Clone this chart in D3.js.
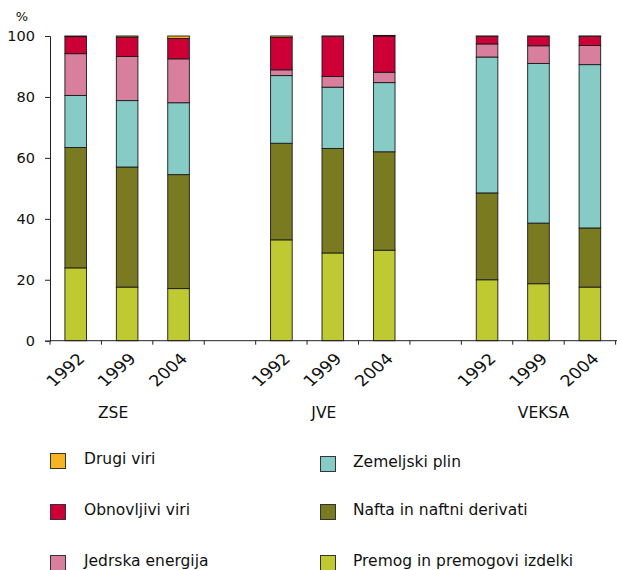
<!DOCTYPE html>
<html>
<head>
<meta charset="utf-8">
<script src="https://cdn.jsdelivr.net/npm/d3@7"></script>
<style>
  html, body { margin: 0; padding: 0; background: #fff; }
  svg { display: block; }
  text { font-family: "DejaVu Sans", Verdana, sans-serif; fill: #111; }
</style>
</head>
<body>
<svg id="chart" width="617" height="570"></svg>
<script>
// Regions and years shown on the category axis
const groups = ["ZSE", "JVE", "VEKSA"];
const years = ["1992", "1999", "2004"];

// Share of primary energy sources (%), one value per bar: ZSE 1992..2004, JVE 1992..2004, VEKSA 1992..2004
const premog      = [23.9, 17.6, 17.1, 33.1, 28.8, 29.7, 20.0, 18.7, 17.6];
const nafta       = [39.5, 39.4, 37.4, 31.7, 34.3, 32.3, 28.5, 19.9, 19.4];
const plin        = [17.1, 21.8, 23.6, 22.2, 20.1, 22.7, 44.6, 52.4, 53.6];
const jedrska     = [13.7, 14.5, 14.4,  1.9,  3.5,  3.4,  4.3,  5.8,  6.3];
const obnovljivi  = [ 5.6,  6.3,  6.7, 10.6, 13.2, 11.9,  2.5,  3.1,  3.0];
const drugi       = [ 0.2,  0.4,  0.8,  0.5,  0.1,  0.2,  0.1,  0.1,  0.1];

const yTicks = [0, 20, 40, 60, 80, 100];

// Series in stacking order (bottom to top)
const series = [
  { key: "premog",     name: "Premog in premogovi izdelki", values: premog,     color: "#bfc932" },
  { key: "nafta",      name: "Nafta in naftni derivati",    values: nafta,      color: "#7a7b20" },
  { key: "plin",       name: "Zemeljski plin",              values: plin,       color: "#86cbc6" },
  { key: "jedrska",    name: "Jedrska energija",            values: jedrska,    color: "#d87f9e" },
  { key: "obnovljivi", name: "Obnovljivi viri",             values: obnovljivi, color: "#cc0036" },
  { key: "drugi",      name: "Drugi viri",                  values: drugi,      color: "#f6b423" }
];

// Category slots, with an empty slot between region groups
const slots = [];
const bars = [];
groups.forEach((g, gi) => {
  if (gi > 0) slots.push("gap" + gi);
  years.forEach(y => {
    const key = g + " " + y;
    slots.push(key);
    const row = { slot: key, year: y, group: g };
    series.forEach(s => { row[s.key] = s.values[bars.length]; });
    bars.push(row);
  });
});

const svg = d3.select("#chart");
const margin = { left: 50, top: 36, right: 1.4, bottom: 229.3 };
const W = 617, H = 570;

const x = d3.scaleBand()
  .domain(slots)
  .range([margin.left, W - margin.right])
  .paddingInner(0.58)
  .paddingOuter(0.29);

const y = d3.scaleLinear().domain([0, 100]).range([H - margin.bottom, margin.top]);

const stack = d3.stack().keys(series.map(s => s.key));
const stacked = stack(bars);

// Bars
const layers = svg.append("g").selectAll("g")
  .data(stacked)
  .join("g")
  .attr("fill", (d, i) => series[i].color);

layers.selectAll("rect")
  .data(d => d)
  .join("rect")
  .attr("x", d => x(d.data.slot))
  .attr("width", x.bandwidth())
  .attr("y", d => y(d[1]))
  .attr("height", d => Math.max(0, y(d[0]) - y(d[1])))
  .attr("stroke", "#1a1a1a")
  .attr("stroke-width", 0.9);

// Y axis
const yAxis = svg.append("g")
  .attr("transform", `translate(${margin.left},0)`)
  .call(d3.axisLeft(y).tickValues(yTicks).tickSize(5).tickPadding(10));
yAxis.select(".domain").attr("stroke", "#222");
yAxis.selectAll(".tick line").attr("stroke", "#222");
yAxis.selectAll(".tick text")
  .attr("font-size", 14.5)
  .attr("font-family", "DejaVu Sans, Verdana, sans-serif")
  .attr("fill", "#111");

svg.append("text")
  .attr("x", 22).attr("y", 21)
  .attr("text-anchor", "middle")
  .attr("font-size", 13)
  .text("%");

// X axis: ticks at slot boundaries
const x0 = H - margin.bottom;
const xAxis = svg.append("g");
xAxis.append("line")
  .attr("x1", margin.left).attr("x2", W)
  .attr("y1", x0).attr("y2", x0)
  .attr("stroke", "#222");
const step = x.step();
const boundaries = d3.range(slots.length + 1).map(i => x.range()[0] + i * step);
xAxis.selectAll("line.tick")
  .data(boundaries)
  .join("line")
  .attr("class", "tick")
  .attr("x1", d => d).attr("x2", d => d)
  .attr("y1", x0).attr("y2", x0 + 4)
  .attr("stroke", "#222");

// Year labels, rotated and slightly widened
xAxis.selectAll("text.year")
  .data(bars)
  .join("text")
  .attr("class", "year")
  .attr("text-anchor", "end")
  .attr("font-size", 15.5)
  .attr("transform", d => `translate(${x(d.slot) + x.bandwidth() / 2 + 10},${x0 + 19}) scale(1.15,1) rotate(-45)`)
  .text(d => d.year);

// Region labels under each group
const groupShift = [-14, -9, 5];
svg.selectAll("text.group")
  .data(groups)
  .join("text")
  .attr("class", "group")
  .attr("text-anchor", "middle")
  .attr("font-size", 15.5)
  .attr("x", (g, i) => x(g + " " + years[1]) + x.bandwidth() / 2 + groupShift[i])
  .attr("y", 418)
  .text(g => g);

// Legend, two columns
const legendCols = [
  ["drugi", "obnovljivi", "jedrska"],
  ["plin", "nafta", "premog"]
];
const colX = [50, 320];
const rowY = [453, 504, 555];
legendCols.forEach((col, ci) => {
  col.forEach((key, ri) => {
    const s = series.find(d => d.key === key);
    const gy = rowY[ri] + (ci === 1 && ri === 0 ? 3 : 0);
    const g = svg.append("g").attr("transform", `translate(${colX[ci]},${gy})`);
    g.append("rect")
      .attr("x", 0.5).attr("y", 0.5)
      .attr("width", 15).attr("height", 15)
      .attr("fill", s.color)
      .attr("stroke", "#333")
      .attr("stroke-width", 1);
    g.append("text")
      .attr("x", ci === 0 ? 34 : 33)
      .attr("y", 11)
      .attr("font-size", 15.5)
      .text(s.name);
  });
});
</script>
</body>
</html>
